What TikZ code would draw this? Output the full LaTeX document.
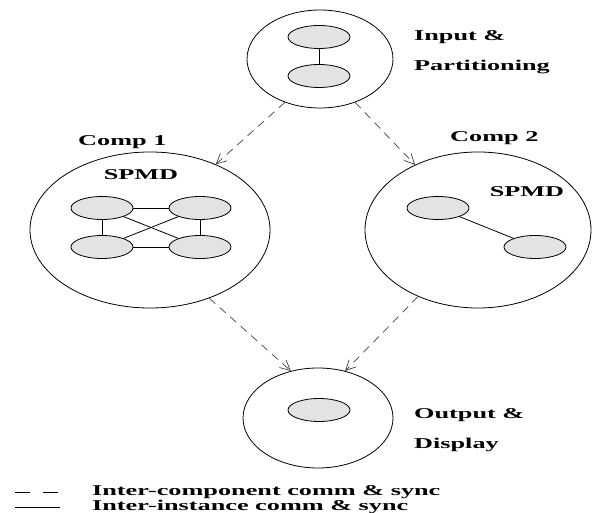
\documentclass[tikz,border=0pt]{standalone}
\usepackage{fontspec}
\setmainfont{Liberation Serif}
\usetikzlibrary{shapes.geometric,arrows.meta}
\tikzset{
  region/.style={ellipse,draw,line width=0.8pt,inner sep=0},
  proc/.style={ellipse,draw,line width=0.8pt,fill=gray!22,minimum width=62,minimum height=23,inner sep=0},
  lbl/.style={font=\bfseries\fontsize{15}{30}\selectfont,xscale=1.75,transform shape,align=left},
  flow/.style={draw=black!75,line width=0.7pt,dash pattern=on 8pt off 6pt,-{Straight Barb[length=10pt,width=10pt]}}
}
\begin{document}
\begin{tikzpicture}[x={(1pt,0)},y={(0,-1pt)}]
      \useasboundingbox (0,0) rectangle (595,513);
      % components
      \node[region,minimum width=146,minimum height=98] (inp) at (320,59) {};
      \node[region,minimum width=240,minimum height=156] (cmpa) at (150,230) {};
      \node[region,minimum width=226,minimum height=156] (cmpb) at (478,230) {};
      \node[region,minimum width=150,minimum height=100] (outp) at (318,418) {};
      % instances
      \node[proc] (p1) at (319,37) {};
      \node[proc] (p2) at (319,76) {};
      \draw[line width=0.8pt] (p1) -- (p2);
      \foreach \n/\x/\y in {a1/102/208,a2/200/208,a3/102/247,a4/200/247}
       { \node[proc] (\n) at (\x,\y) {};}
      \foreach \s/\t in {a1/a2,a3/a4,a1/a3,a2/a4,a1/a4,a3/a2}
       { \draw[line width=0.8pt] (\s) -- (\t);}
      \node[proc] (b1) at (438,208) {};
      \node[proc] (b2) at (535,247) {};
      \draw[line width=0.8pt] (b1) -- (b2);
      \node[proc] (q1) at (319,410) {};
      % labels
      \node[lbl,anchor=west] (tinp) at (408,52) {Input \&\\Partitioning};
      \node[lbl,anchor=west] (tca) at (72,142) {Comp 1};
      \node[lbl,anchor=west] (tcb) at (444,138) {Comp 2};
      \node[lbl] (sa) at (141,175) {SPMD};
      \node[lbl] (sb) at (527,192) {SPMD};
      \node[lbl,anchor=west] (tout) at (408,430) {Output \&\\Display};
      % inter-component flow
      \draw[flow] (inp.231) -- (cmpa.45);
      \draw[flow] (inp.309) -- (cmpb.134);
      \draw[flow] (cmpa.311) -- (outp.120);
      \draw[flow] (cmpb.228) -- (outp.60);
      % legend
      \coordinate (d1) at (15,492); \coordinate (d2) at (60,492);
      \coordinate (s1) at (15,507); \coordinate (s2) at (60,507);
      \draw[line width=0.8pt,dash pattern=on 15pt off 13pt] (d1) -- (d2);
      \draw[line width=0.8pt] (s1) -- (s2);
      \node[lbl,anchor=west] (ld) at (86,492) {Inter-component comm \& sync};
      \node[lbl,anchor=west] (ls) at (86,507) {Inter-instance comm \& sync};
\end{tikzpicture}
\end{document}
